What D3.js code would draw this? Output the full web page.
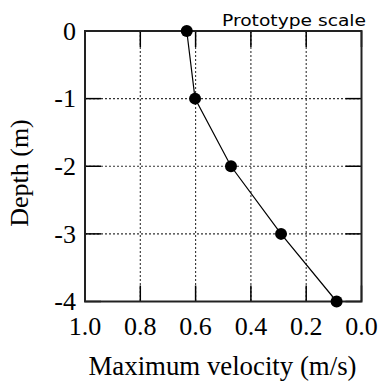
<!DOCTYPE html>
<html><head><meta charset="utf-8">
<script src="https://cdn.jsdelivr.net/npm/d3@7"></script>
<style>body{margin:0;background:#fff}</style>
</head><body>
<svg id="c" width="379" height="381"></svg>
<script>
const depth = [0, -1, -2, -3, -4];
const velocity = [0.632, 0.602, 0.472, 0.291, 0.09];
const xTicks = [1.0, 0.8, 0.6, 0.4, 0.2, 0.0];
const yTicks = [0, -1, -2, -3, -4];
const xLabel = "Maximum velocity (m/s)";
const yLabel = "Depth (m)";
const note = "Prototype scale";

const svg = d3.select("#c");
const L = 85, R = 361.5, T = 31, B = 301.5;
const x = d3.scaleLinear().domain([1, 0]).range([L, R]);
const y = d3.scaleLinear().domain([0, -4]).range([T, B]);
const serif = "'Liberation Serif', 'Times New Roman', serif";

// grid (dotted)
const g = svg.append("g");
g.selectAll(".gx").data(xTicks.filter(d => d !== 1 && d !== 0)).enter().append("line")
  .attr("x1", d => x(d)).attr("x2", d => x(d)).attr("y1", T).attr("y2", B)
  .attr("stroke", "#333").attr("stroke-width", 1.1).attr("stroke-dasharray", "2,2");
g.selectAll(".gy").data(yTicks.filter(d => d !== 0 && d !== -4)).enter().append("line")
  .attr("y1", d => y(d)).attr("y2", d => y(d)).attr("x1", L).attr("x2", R)
  .attr("stroke", "#333").attr("stroke-width", 1.1).attr("stroke-dasharray", "2,2");

// inward ticks on all four sides
const tl = 16;
const tk = svg.append("g").attr("stroke", "#000").attr("stroke-width", 1.5);
xTicks.forEach(d => {
  tk.append("line").attr("x1", x(d)).attr("x2", x(d)).attr("y1", B).attr("y2", B - tl);
  tk.append("line").attr("x1", x(d)).attr("x2", x(d)).attr("y1", T).attr("y2", T + tl);
});
yTicks.forEach(d => {
  tk.append("line").attr("y1", y(d)).attr("y2", y(d)).attr("x1", L).attr("x2", L + tl);
  tk.append("line").attr("y1", y(d)).attr("y2", y(d)).attr("x1", R).attr("x2", R - tl);
});

// frame
svg.append("rect").attr("x", L).attr("y", T).attr("width", R - L).attr("height", B - T)
  .attr("fill", "none").attr("stroke", "#222").attr("stroke-width", 2);

// tick labels
svg.selectAll(".xl").data(xTicks).enter().append("text")
  .attr("x", d => x(d)).attr("y", 335).attr("text-anchor", "middle")
  .attr("font-family", serif).attr("font-size", 26).text(d => d3.format(".1f")(d));
svg.selectAll(".yl").data(yTicks).enter().append("text")
  .attr("x", 76).attr("y", d => y(d)).attr("dy", "0.34em").attr("text-anchor", "end")
  .attr("font-family", serif).attr("font-size", 26).text(d => String(d));

// data line & points
const pts = depth.map((d, i) => [velocity[i], d]);
svg.append("path").datum(pts)
  .attr("d", d3.line().x(d => x(d[0])).y(d => y(d[1])))
  .attr("fill", "none").attr("stroke", "#000").attr("stroke-width", 1.2);
svg.selectAll(".pt").data(pts).enter().append("circle")
  .attr("cx", d => x(d[0])).attr("cy", d => y(d[1])).attr("r", 6).attr("fill", "#000");

// labels
svg.append("text").attr("x", 222.5).attr("y", 375).attr("text-anchor", "middle")
  .attr("font-family", serif).attr("font-size", 27)
  .attr("textLength", 268).attr("lengthAdjust", "spacingAndGlyphs")
  .text(xLabel);
svg.append("text").attr("transform", `translate(28,173) rotate(-90)`).attr("text-anchor", "middle")
  .attr("font-family", serif).attr("font-size", 26)
  .text(yLabel);
svg.append("text").attr("x", 366).attr("y", 26).attr("text-anchor", "end")
  .attr("font-family", "'DejaVu Sans', sans-serif").attr("font-size", 16.5)
  .attr("textLength", 144).attr("lengthAdjust", "spacingAndGlyphs")
  .text(note);
</script>
</body></html>
